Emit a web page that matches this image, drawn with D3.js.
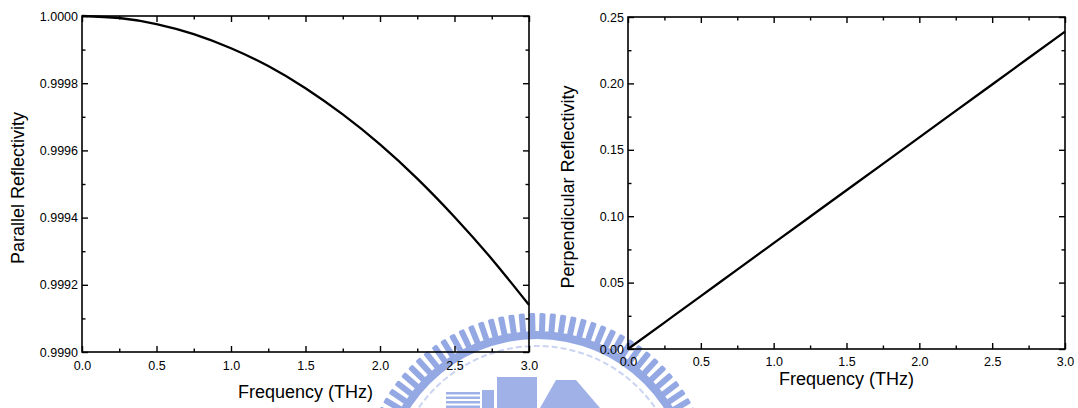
<!DOCTYPE html>
<html>
<head>
<meta charset="utf-8">
<script src="https://cdn.jsdelivr.net/npm/d3@7"></script>
<style>
  html, body { margin: 0; padding: 0; background: #fff; }
  svg { display: block; }
  text { font-family: Arial, "Liberation Sans", sans-serif; fill: #000; }
</style>
</head>
<body>
<svg id="chart" width="1078" height="408"></svg>
<script>
// ── Data ──────────────────────────────────────────────
const freq      = [0, 0.25, 0.5, 0.75, 1.0, 1.25, 1.5, 1.75, 2.0, 2.25, 2.5, 2.75, 3.0];
const parallelR = [1.000000, 0.999994, 0.999976, 0.999946, 0.999904, 0.999851, 0.999785,
                   0.999707, 0.999618, 0.999516, 0.999402, 0.999277, 0.999140];
const perpR     = [0, 0.0199, 0.0398, 0.0598, 0.0797, 0.0996, 0.1195, 0.1394, 0.1594,
                   0.1793, 0.1992, 0.2191, 0.2390];

const xMajor   = [0, 0.5, 1.0, 1.5, 2.0, 2.5, 3.0];
const xMinor   = [0.25, 0.75, 1.25, 1.75, 2.25, 2.75];
const parMajor = [0.9990, 0.9992, 0.9994, 0.9996, 0.9998, 1.0000];
const parMinor = [0.9991, 0.9993, 0.9995, 0.9997, 0.9999];
const perMajor = [0, 0.05, 0.10, 0.15, 0.20, 0.25];
const perMinor = [0.025, 0.075, 0.125, 0.175, 0.225];

const svg = d3.select('#chart');

// ── Watermark (faint logo behind the plots) ───────────
function drawWatermark() {
  const wm = svg.append('g').attr('opacity', 0.85);
  const cx = 537, cy = 490;
  for (let a = 180; a <= 360; a += 3.4) {
    wm.append('rect')
      .attr('x', 158).attr('y', -3)
      .attr('width', 19).attr('height', 6)
      .attr('rx', 1.5)
      .attr('fill', '#8299df')
      .attr('transform', `translate(${cx},${cy}) rotate(${a})`);
  }
  const arc = d3.arc();
  wm.append('path')
    .attr('transform', `translate(${cx},${cy})`)
    .attr('d', arc({ innerRadius: 151, outerRadius: 159, startAngle: -Math.PI, endAngle: Math.PI }))
    .attr('fill', '#8299df');
  wm.append('circle')
    .attr('cx', cx).attr('cy', cy).attr('r', 144)
    .attr('fill', 'none').attr('stroke', '#c3cdf0').attr('stroke-width', 2)
    .attr('stroke-dasharray', '6 3');
  // buildings
  const b = wm.append('g').attr('fill', '#8fa4e3');
  b.append('rect').attr('x', 497).attr('y', 377).attr('width', 40).attr('height', 31);
  b.append('path').attr('d', 'M540,408 L556,380 L576,380 L600,408 Z');
  for (let i = 0; i < 4; i++) {
    b.append('rect').attr('x', 446).attr('y', 392 + i * 4.5).attr('width', 34).attr('height', 2.5);
  }
  b.append('rect').attr('x', 482).attr('y', 390).attr('width', 12).attr('height', 18);
}
drawWatermark();

// ── Panel ─────────────────────────────────────────────
function panel(opt) {
  const { left, right, top, bottom } = opt.box;
  const x = d3.scaleLinear().domain([0, 3]).range([left, right]);
  const y = d3.scaleLinear().domain(opt.yDomain).range([bottom, top]);
  const g = svg.append('g');

  const major = 6, minor = 3.5;
  const style = sel => {
    sel.select('.domain').remove();
    sel.selectAll('line').attr('stroke', '#000').attr('stroke-width', 1.4);
    sel.selectAll('text')
      .attr('font-size', 12.5)
      .attr('font-family', 'Arial, "Liberation Sans", sans-serif')
      .attr('fill', '#000');
  };

  // bottom
  g.append('g').attr('transform', `translate(0,${bottom})`)
    .call(d3.axisBottom(x).tickValues(xMajor).tickSize(-major).tickPadding(opt.xPad)
      .tickFormat(d3.format('.1f')))
    .call(style);
  g.append('g').attr('transform', `translate(0,${bottom})`)
    .call(d3.axisBottom(x).tickValues(xMinor).tickSize(-minor).tickFormat(''))
    .call(style);
  // top
  g.append('g').attr('transform', `translate(0,${top})`)
    .call(d3.axisTop(x).tickValues(xMajor).tickSize(-major).tickFormat(''))
    .call(style);
  g.append('g').attr('transform', `translate(0,${top})`)
    .call(d3.axisTop(x).tickValues(xMinor).tickSize(-minor).tickFormat(''))
    .call(style);
  // left
  g.append('g').attr('transform', `translate(${left},0)`)
    .call(d3.axisLeft(y).tickValues(opt.yMajor).tickSize(-major).tickPadding(4)
      .tickFormat(d3.format(opt.yFmt)))
    .call(style);
  g.append('g').attr('transform', `translate(${left},0)`)
    .call(d3.axisLeft(y).tickValues(opt.yMinor).tickSize(-minor).tickFormat(''))
    .call(style);
  // right
  g.append('g').attr('transform', `translate(${right},0)`)
    .call(d3.axisRight(y).tickValues(opt.yMajor).tickSize(-major).tickFormat(''))
    .call(style);
  g.append('g').attr('transform', `translate(${right},0)`)
    .call(d3.axisRight(y).tickValues(opt.yMinor).tickSize(-minor).tickFormat(''))
    .call(style);

  // frame
  g.append('rect')
    .attr('x', left).attr('y', top)
    .attr('width', right - left).attr('height', bottom - top)
    .attr('fill', 'none').attr('stroke', '#000').attr('stroke-width', 1.6);

  // curve
  const line = d3.line().x((d, i) => x(freq[i])).y(d => y(d)).curve(d3.curveNatural);
  g.append('path')
    .datum(opt.values)
    .attr('d', line)
    .attr('fill', 'none')
    .attr('stroke', '#000')
    .attr('stroke-width', 2.3);

  // titles
  g.append('text')
    .attr('x', (left + right) / 2).attr('y', opt.xTitleY)
    .attr('text-anchor', 'middle').attr('font-size', 18)
    .text('Frequency (THz)');
  g.append('text')
    .attr('transform', `translate(${opt.yTitleX},${(top + bottom) / 2 + 4}) rotate(-90)`)
    .attr('text-anchor', 'middle').attr('font-size', 18)
    .text(opt.yTitle);
}

panel({
  box: { left: 82, right: 529, top: 16, bottom: 352 },
  yDomain: [0.9990, 1.0000],
  yMajor: parMajor, yMinor: parMinor, yFmt: '.4f',
  values: parallelR,
  xPad: 9,
  xTitleY: 398,
  yTitleX: 24,
  yTitle: 'Parallel Reflectivity'
});

panel({
  box: { left: 628, right: 1065, top: 17, bottom: 349 },
  yDomain: [0, 0.25],
  yMajor: perMajor, yMinor: perMinor, yFmt: '.2f',
  values: perpR,
  xPad: 8,
  xTitleY: 385,
  yTitleX: 574,
  yTitle: 'Perpendicular Reflectivity'
});
</script>
</body>
</html>
